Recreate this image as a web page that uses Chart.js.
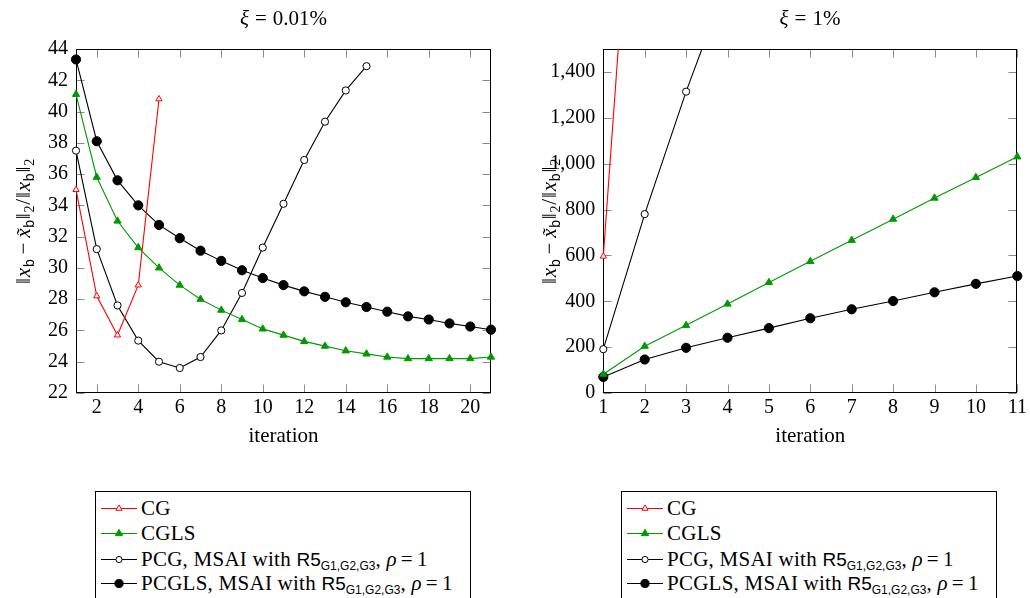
<!DOCTYPE html>
<html><head><meta charset="utf-8">
<script src="https://cdn.jsdelivr.net/npm/chart.js@4.4.1/dist/chart.umd.min.js"></script>
<style>
body{margin:0;background:#fff;width:1030px;height:598px;overflow:hidden;position:relative;font-family:"Liberation Serif",serif;color:#000;}
canvas{position:absolute;top:0;}
.ttl{position:absolute;top:18px;transform:translate(-50%,-50%);font-size:21px;white-space:nowrap;color:#000;}
.ttl .eq{margin:0 6px;}
.ylab{position:absolute;width:200px;height:30px;margin-left:-100px;margin-top:-15px;line-height:30px;text-align:center;transform:rotate(-90deg);white-space:nowrap;font-size:21px;color:#000;letter-spacing:0.8px;}
.ylab sub{font-size:14px;vertical-align:-4px;line-height:0;}
.ylab .op{margin:0 4px;}
.sf{font-family:"Liberation Sans",sans-serif;}
.legend{position:absolute;top:491px;width:376px;height:130px;border:1px solid #000;box-sizing:border-box;background:#fff;}
.row{position:absolute;left:5px;height:25px;display:flex;align-items:center;font-size:21px;letter-spacing:0.25px;white-space:nowrap;color:#000;}
.row svg{margin-right:4px;flex:none;}
.row .r5{font-family:"Liberation Sans",sans-serif;font-size:19px;letter-spacing:0;}
.row sub{font-family:"Liberation Sans",sans-serif;font-size:12px;vertical-align:-4px;line-height:0;letter-spacing:0;}
.row .eq{margin:0 4px;}
</style>
</head><body>
<canvas id="c1" width="520" height="470" style="left:0"></canvas>
<canvas id="c2" width="515" height="470" style="left:515px"></canvas>
<div class="ttl" style="left:283.5px"><i>ξ</i><span class="eq">=</span>0.01%</div>
<div class="ttl" style="left:810px"><i>ξ</i><span class="eq">=</span>1%</div>
<div class="ylab" style="left:23px;top:221px">‖<i>x</i><sub class="sf">b</sub><span class="op">−</span><i>x̃</i><sub class="sf">b</sub>‖<sub>2</sub>/‖<i>x</i><sub class="sf">b</sub>‖<sub>2</sub></div>
<div class="ylab" style="left:549px;top:221px">‖<i>x</i><sub class="sf">b</sub><span class="op">−</span><i>x̃</i><sub class="sf">b</sub>‖<sub>2</sub>/‖<i>x</i><sub class="sf">b</sub>‖<sub>2</sub></div>
<div class="legend" id="lg1" style="left:95px"></div>
<div class="legend" id="lg2" style="left:621px"></div>
<script>
// ---------- data ----------
const seriesNames = ['CG', 'CGLS', 'PCG, MSAI with R5', 'PCGLS, MSAI with R5'];
const itersLeft = [1,2,3,4,5,6,7,8,9,10,11,12,13,14,15,16,17,18,19,20,21];
const cgLeft    = [35.0, 28.2, 25.7, 28.9, 40.8];
const cglsLeft  = [41.1, 35.8, 33.0, 31.3, 30.0, 28.9, 28.0, 27.3, 26.7, 26.1, 25.7, 25.3, 25.0, 24.7, 24.5, 24.3, 24.2, 24.2, 24.2, 24.2, 24.3];
const pcgLeft   = [37.5, 31.2, 27.6, 25.35, 24.0, 23.6, 24.3, 26.0, 28.4, 31.3, 34.1, 36.9, 39.35, 41.35, 42.9];
const pcglsLeft = [43.33, 38.1, 35.6, 34.0, 32.75, 31.9, 31.1, 30.45, 29.85, 29.35, 28.9, 28.5, 28.15, 27.8, 27.5, 27.2, 26.9, 26.7, 26.45, 26.25, 26.05];
const xTicksLeft = [2,4,6,8,10,12,14,16,18,20];
const yTicksLeft = [22,24,26,28,30,32,34,36,38,40,42,44];

const itersRight = [1,2,3,4,5,6,7,8,9,10,11];
const cgRight    = [596, 3100];
const cglsRight  = [82, 204, 295, 388, 482, 574, 666, 758, 850, 940, 1030];
const pcgRight   = [191, 780, 1314, 1800];
const pcglsRight = [70, 146, 197, 241, 283, 326, 365, 401, 439, 476, 510];
const xTicksRight = [1,2,3,4,5,6,7,8,9,10,11];
const yTicksRight = [0,200,400,600,800,1000,1200,1400];

// ---------- styling ----------
const RED = '#ff0000', GREEN = '#009900', BLACK = '#000000';
const FONT = {family: 'Liberation Serif', size: 20};
const TITLE_FONT = {family: 'Liberation Serif', size: 21};
const styles = [
  {color: RED,   pointStyle: 'triangle', fill: '#ffffff', radius: 3.6},
  {color: GREEN, pointStyle: 'triangle', fill: GREEN,     radius: 4.2},
  {color: BLACK, pointStyle: 'circle',   fill: '#ffffff', radius: 3.6},
  {color: BLACK, pointStyle: 'circle',   fill: BLACK,     radius: 4.6}
];

function ds(iters, vals, k) {
  const s = styles[k];
  return {
    label: seriesNames[k],
    data: vals.map((v, i) => ({x: iters[i], y: v})),
    borderColor: s.color, backgroundColor: s.fill,
    pointBorderColor: s.color, pointBackgroundColor: s.fill,
    pointStyle: s.pointStyle, pointRadius: s.radius, pointBorderWidth: 1,
    borderWidth: 1.1, tension: 0, fill: false,
    clip: {left: 10, right: 10, top: 0, bottom: 10}
  };
}

const frameTicks = {
  id: 'frameTicks',
  beforeDatasetsDraw(chart) {
    const {ctx, chartArea: a, scales: {x, y}} = chart;
    const L = Math.round(a.left) + 0.5, R = Math.round(a.right) - 0.5;
    const T = Math.round(a.top) + 0.5, B = Math.round(a.bottom) - 0.5;
    ctx.save();
    ctx.strokeStyle = '#8a8a8a'; ctx.lineWidth = 1;
    ctx.beginPath();
    x.ticks.forEach(t => {
      const p = Math.round(x.getPixelForValue(t.value)) + 0.5;
      ctx.moveTo(p, B); ctx.lineTo(p, B - 8);
      ctx.moveTo(p, T); ctx.lineTo(p, T + 8);
    });
    y.ticks.forEach(t => {
      const p = Math.round(y.getPixelForValue(t.value)) + 0.5;
      ctx.moveTo(L, p); ctx.lineTo(L + 8, p);
      ctx.moveTo(R, p); ctx.lineTo(R - 8, p);
    });
    ctx.stroke();
    ctx.strokeStyle = '#000'; ctx.lineWidth = 1;
    ctx.strokeRect(L, T, R - L, B - T);
    ctx.restore();
  }
};

function makeChart(id, iters, series, xr, yr, xTicks, yTicks, yWidth, padRight, fmt) {
  return new Chart(document.getElementById(id), {
    type: 'line',
    data: {datasets: series.map((v, k) => ds(iters, v, k))},
    options: {
      responsive: false, animation: false, devicePixelRatio: 1,
      layout: {padding: {left: 0, right: padRight, top: 49, bottom: 0}},
      plugins: {legend: {display: false}, tooltip: {enabled: false}, title: {display: false}},
      scales: {
        x: {
          type: 'linear', min: xr[0], max: xr[1],
          grid: {display: false, drawTicks: false}, border: {display: false},
          afterBuildTicks: s => { s.ticks = xTicks.map(v => ({value: v})); },
          afterFit: s => { s.height = 77; },
          ticks: {font: FONT, color: '#000', padding: 3, maxRotation: 0, autoSkip: false,
                  callback: v => String(v)},
          title: {display: true, text: 'iteration', font: TITLE_FONT, color: '#000', padding: {top: 21, bottom: 21}}
        },
        y: {
          type: 'linear', min: yr[0], max: yr[1],
          grid: {display: false, drawTicks: false}, border: {display: false},
          afterBuildTicks: s => { s.ticks = yTicks.map(v => ({value: v})); },
          afterFit: s => { s.width = yWidth; },
          ticks: {font: FONT, color: '#000', padding: 8, autoSkip: false, callback: fmt}
        }
      }
    },
    plugins: [frameTicks]
  });
}

makeChart('c1', itersLeft, [cgLeft, cglsLeft, pcgLeft, pcglsLeft], [1, 21], [22, 44],
  xTicksLeft, yTicksLeft, 76, 29, v => String(v));
makeChart('c2', itersRight, [cgRight, cglsRight, pcgRight, pcglsRight], [1, 11], [0, 1500],
  xTicksRight, yTicksRight, 88.3, 12.7, v => v.toLocaleString('en-US'));

// ---------- legends ----------
function sym(k) {
  const s = styles[k];
  let m;
  if (s.pointStyle === 'circle') {
    m = `<circle cx="18" cy="12.5" r="${s.radius - 0.5}" fill="${s.fill}" stroke="${s.color}" stroke-width="1"/>`;
  } else {
    const r = s.radius;
    m = `<polygon points="18,${12.5 - r} ${18 + r * 0.87},${12.5 + r / 2} ${18 - r * 0.87},${12.5 + r / 2}" fill="${s.fill}" stroke="${s.color}" stroke-width="1"/>`;
  }
  return `<svg width="36" height="25"><line x1="0" y1="12.5" x2="36" y2="12.5" stroke="${s.color}" stroke-width="1.1"/>${m}</svg>`;
}
const rowTops = [3.5, 28.5, 54.5, 78.5];
function labelHtml(k) {
  if (k < 2) return seriesNames[k];
  const base = seriesNames[k].replace(' R5', '');
  return `${base}&nbsp;<span class="r5">R5</span><sub>G1,G2,G3</sub>, <i>ρ</i><span class="eq">=</span>1`;
}
['lg1', 'lg2'].forEach(id => {
  const el = document.getElementById(id);
  el.innerHTML = seriesNames.map((n, k) =>
    `<div class="row" style="top:${rowTops[k]}px">${sym(k)}<span>${labelHtml(k)}</span></div>`).join('');
});
</script>
</body></html>
